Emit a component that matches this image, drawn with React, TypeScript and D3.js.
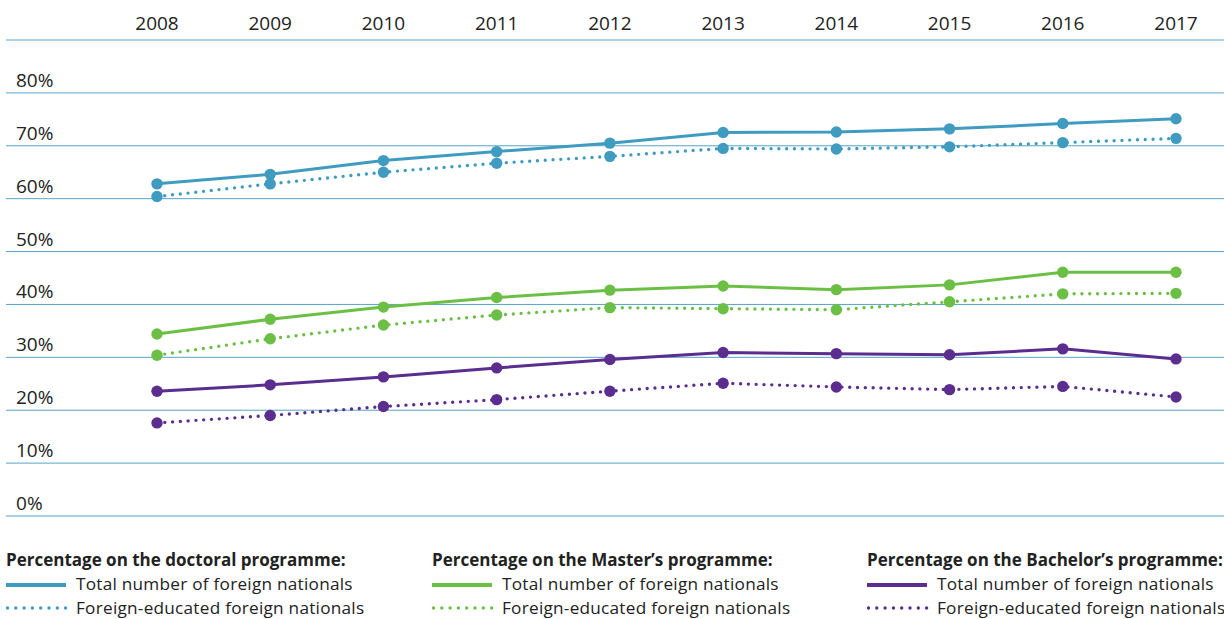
import * as d3 from 'd3';

const years = [2008, 2009, 2010, 2011, 2012, 2013, 2014, 2015, 2016, 2017];
const yTicks = [0, 10, 20, 30, 40, 50, 60, 70, 80];

const doctoralTotal = [62.8, 64.6, 67.2, 68.9, 70.5, 72.5, 72.6, 73.2, 74.2, 75.1];
const doctoralForeignEdu = [60.4, 62.8, 65.0, 66.7, 68.0, 69.5, 69.4, 69.8, 70.6, 71.4];
const masterTotal = [34.4, 37.2, 39.5, 41.3, 42.7, 43.5, 42.8, 43.7, 46.1, 46.1];
const masterForeignEdu = [30.4, 33.5, 36.1, 38.0, 39.4, 39.2, 39.0, 40.5, 42.0, 42.1];
const bachelorTotal = [23.6, 24.8, 26.3, 28.0, 29.6, 30.9, 30.7, 30.5, 31.6, 29.7];
const bachelorForeignEdu = [17.6, 19.0, 20.7, 22.0, 23.6, 25.1, 24.4, 23.9, 24.5, 22.5];

const BLUE = '#3f9bbf';
const GREEN = '#6cbf45';
const PURPLE = '#5a2d8f';
const GRID = '#55a5c8';
const TEXT = '#222';
const FONT = '"Open Sans", sans-serif';

const groups = [
  { title: 'Percentage on the doctoral programme:', color: BLUE, total: doctoralTotal, edu: doctoralForeignEdu },
  { title: 'Percentage on the Master’s programme:', color: GREEN, total: masterTotal, edu: masterForeignEdu },
  { title: 'Percentage on the Bachelor’s programme:', color: PURPLE, total: bachelorTotal, edu: bachelorForeignEdu },
];

const W = 1224;
const H = 619;

export default function App() {
  const x = d3.scaleLinear().domain([2008, 2017]).range([157, 1176]);
  const y = d3.scaleLinear().domain([0, 90]).range([516, 40]);
  const line = d3.line<number>().x((_, i) => x(years[i])).y((d) => y(d));

  const legendX = [6, 432, 867];

  return (
    <div style={{ position: 'absolute', left: 0, top: 0 }}>
      <svg width={W} height={H} style={{ display: 'block', background: '#fff' }} fontFamily={FONT}>
        {/* top rule under the year labels */}
        <line x1={6} x2={W} y1={y(90)} y2={y(90)} stroke={GRID} strokeWidth={1} />
        {years.map((yr) => (
          <text key={yr} x={x(yr)} y={30} textAnchor="middle" fontSize={19} fill={TEXT}>
            {yr}
          </text>
        ))}
        {yTicks.map((t) => (
          <g key={t}>
            <line x1={6} x2={W} y1={y(t)} y2={y(t)} stroke={GRID} strokeWidth={1} />
            <text x={16} y={y(t) - 6} fontSize={19} fill={TEXT}>
              {t}%
            </text>
          </g>
        ))}

        {groups.map((g) => (
          <g key={g.title}>
            <path d={line(g.edu) ?? ''} fill="none" stroke={g.color} strokeWidth={3.4} strokeLinecap="round" strokeDasharray="0 7.8" />
            <path d={line(g.total) ?? ''} fill="none" stroke={g.color} strokeWidth={3} />
            {g.edu.map((v, i) => (
              <circle key={'e' + i} cx={x(years[i])} cy={y(v)} r={5.7} fill={g.color} />
            ))}
            {g.total.map((v, i) => (
              <circle key={'t' + i} cx={x(years[i])} cy={y(v)} r={5.7} fill={g.color} />
            ))}
          </g>
        ))}

        {groups.map((g, gi) => {
          const lx = legendX[gi];
          return (
            <g key={'leg' + gi}>
              <text x={lx} y={566} fontSize={17} fontWeight={700} fill={TEXT}>
                {g.title}
              </text>
              <line x1={lx} x2={lx + 60} y1={585} y2={585} stroke={g.color} strokeWidth={4} />
              <text x={lx + 70} y={590} fontSize={17.2} letterSpacing={0.25} fill={TEXT}>
                Total number of foreign nationals
              </text>
              <line x1={lx + 1.5} x2={lx + 60} y1={608} y2={608} stroke={g.color} strokeWidth={3.4} strokeLinecap="round" strokeDasharray="0 8.3" />
              <text x={lx + 70} y={614} fontSize={17.2} letterSpacing={0.25} fill={TEXT}>
                Foreign-educated foreign nationals
              </text>
            </g>
          );
        })}
      </svg>
    </div>
  );
}
